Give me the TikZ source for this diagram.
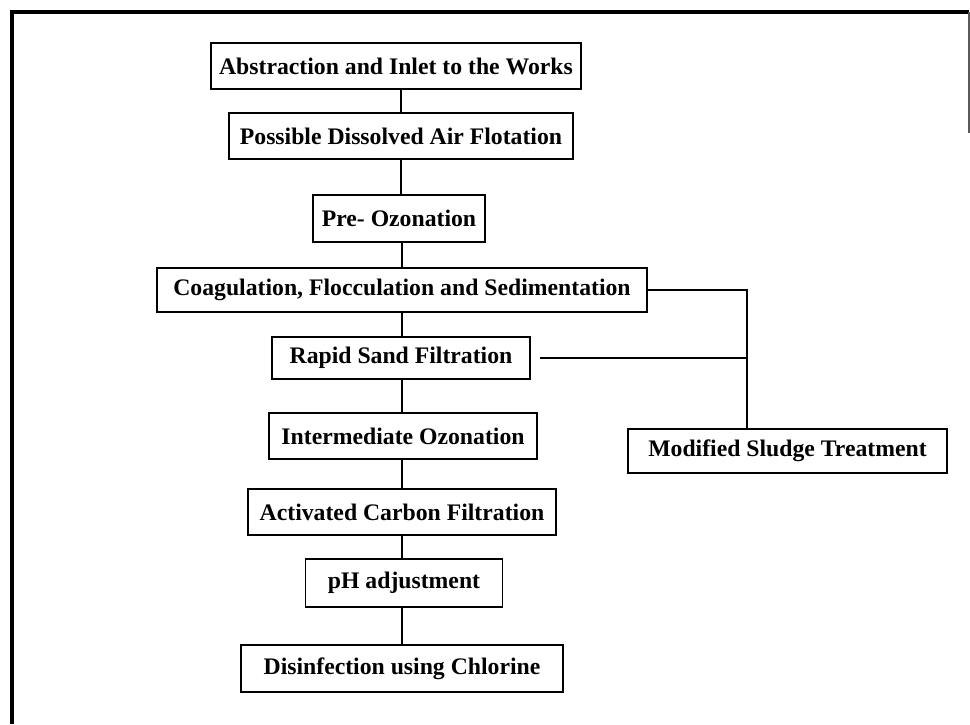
\documentclass[tikz,border=0pt]{standalone}
\usepackage{fontspec}
\setmainfont{Liberation Serif}
\usepackage{tikz}
\definecolor{frame_gray}{RGB}{90,90,90}
\newdimen\pxu
\pxu=0.02cm

\begin{document}
\begin{tikzpicture}[x=0.02cm,y=-0.02cm,line width=1.1pt]
    \tikzstyle{stage}=[draw=black, rectangle, inner sep=0pt, minimum height=46\pxu, fill=white, text=black, font=\fontsize{13.5}{15}\selectfont\bfseries]
    \tikzstyle{link}=[draw=black, line width=1.1pt]

    \useasboundingbox (0,0) rectangle (970,724);
    % open frame round the chart
    \draw[line width=1.8pt] (12,724) -- (12,12) -- (969,12);
    \draw[frame_gray, line width=0.6pt] (969,12) -- (969,133);

    \node[stage, minimum width=370\pxu] (abs)  at (396,66)    {Abstraction and Inlet to the Works};
    \node[stage, minimum width=344\pxu] (daf)  at (401,136)   {Possible Dissolved Air Flotation};
    \node[stage, minimum width=172\pxu, minimum height=47\pxu] (preo) at (399,218.5) {Pre- Ozonation};
    \node[stage, minimum width=490\pxu, minimum height=44\pxu] (coag) at (402,290)   {Coagulation, Flocculation and Sedimentation};
    \node[stage, minimum width=258\pxu, minimum height=42\pxu] (rsf)  at (401,358)   {Rapid Sand Filtration};
    \node[stage, minimum width=268\pxu] (into) at (403,436)   {Intermediate Ozonation};
    \node[stage, minimum width=308\pxu] (gac)  at (402,512)   {Activated Carbon Filtration};
    \node[stage, minimum width=197\pxu, minimum height=48\pxu] (ph)   at (404,583)   {pH adjustment};
    \node[stage, minimum width=322\pxu, minimum height=47\pxu] (chl)  at (402,668.5) {Disinfection using Chlorine};
    \node[stage, minimum width=319\pxu, minimum height=44\pxu] (sld)  at (787.5,451) {Modified Sludge Treatment};

    \coordinate (rsfout) at (540,358);
    \coordinate (sldin)  at (747,290);

    \path[link]
     (abs.south -| daf)  edge (daf.north)
     (daf.south)         edge (preo.north -| daf)
     (preo.south -| coag) edge (coag.north)
     (coag.south)        edge (rsf.north -| coag)
     (rsf.south -| coag) edge (into.north -| coag)
     (into.south -| coag) edge (gac.north -| coag)
     (gac.south -| coag) edge (ph.north -| coag)
     (ph.south -| coag)  edge (chl.north -| coag)
     ;
    % sludge lines from the clarifiers and the filters
    \draw[link] (coag.east) -- (sldin) -- (sldin |- sld.north);
    \draw[link] (rsfout) -- (rsfout -| sldin);
\end{tikzpicture}
\end{document}
